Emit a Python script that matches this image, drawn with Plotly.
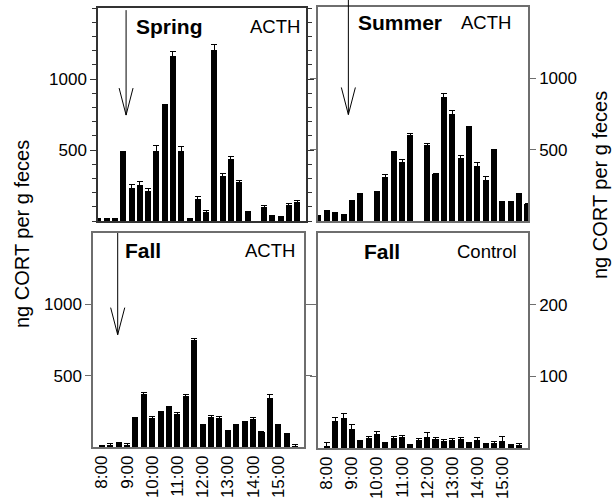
import plotly.graph_objects as go

# ---------------- data ----------------
times = ["7:40", "8:00", "8:20", "8:40", "9:00", "9:20", "9:40", "10:00", "10:20",
         "10:40", "11:00", "11:20", "11:40", "12:00", "12:20", "12:40", "13:00",
         "13:20", "13:40", "14:00", "14:20", "14:40", "15:00", "15:20", "15:40", "16:00"]

spring_acth = [8, 10, 10, 490, 230, 253, 211, 493, 822, 1162, 495, 10, 153, 61, 1204,
               319, 437, 275, 70, None, 101, 40, 30, 113, 131, None]
spring_err = [8, 8, 8, 0, 30, 25, 15, 38, 0, 30, 28, 10, 20, 10, 40,
              17, 17, 12, 0, 0, 7, 0, 0, 7, 14, 0]

summer_acth = [41, 67, 58, 48, 143, 191, None, 205, 309, 488, 412, 606, None, 532, 332,
               866, 751, 440, 659, 389, 290, 500, 134, 136, 191, 122]
summer_err = [0, 5, 0, 0, 0, 0, 0, 0, 14, 0, 20, 7, 0, 10, 0,
              30, 23, 18, 0, 23, 23, 0, 0, 0, 0, 0]

fall_acth = [None, 2, 12, 26, 14, 200, 374, 204, 242, 277, 228, 355, 752, 160, 211,
             204, 118, 153, 174, 195, 107, 346, 153, 97, 3, None]
fall_acth_err = [0, 12, 10, 8, 8, 5, 5, 8, 10, 10, 15, 15, 12, 0, 8,
                 8, 0, 8, 8, 10, 0, 25, 8, 0, 15, 0]

fall_control = [None, 3, 38, 42, 27, 11, 14, 19, 7, 14, 15, 5, 11, 16, 12,
                10, 11, 12, 8, 11, 6, 7, 10, 5, 4, None]
fall_control_err = [0, 5, 4, 6, 6, 0, 2, 4, 0, 2, 2, 0, 2, 5, 2,
                    2, 2, 2, 0, 4, 0, 2, 6, 0, 2, 0]

hour_ticks = [8, 9, 10, 11, 12, 13, 14, 15]
hour_labels = ["8:00", "9:00", "10:00", "11:00", "12:00", "13:00", "14:00", "15:00"]

y_title = "ng CORT per g feces"
# arrow = (injection time in hours, arrow tip value)
arrows = {"spring": (8.78, 746), "summer": (8.86, 746), "fall": (8.63, 787)}


def to_hours(t):
    h, m = t.split(":")
    return int(h) + int(m) / 60.0


xh = [to_hours(t) for t in times]

W, H = 614, 502
FONT = "Liberation Sans, Arial, sans-serif"


def px_dom_x(a, b):
    return [a / W, b / W]


def px_dom_y(top, bottom):
    return [1 - bottom / H, 1 - top / H]


fig = go.Figure()

series = [
    (spring_acth, spring_err, "x", "y"),
    (summer_acth, summer_err, "x2", "y2"),
    (fall_acth, fall_acth_err, "x3", "y3"),
    (fall_control, fall_control_err, "x4", "y4"),
]
for vals, err, xa, ya in series:
    fig.add_trace(go.Bar(
        x=xh, y=vals, xaxis=xa, yaxis=ya, width=0.24,
        marker=dict(color="black", line=dict(width=0)),
        error_y=dict(type="data", array=err, visible=True, color="black",
                     thickness=1, width=3),
        showlegend=False,
    ))

xrange = [7.65, 16.02]
frame_col = "#6e6e6e"
dark_col = "#333333"

common_x = dict(range=xrange, showline=True, mirror=True, linewidth=1.5,
                showgrid=False, zeroline=False, ticks="", tickvals=hour_ticks,
                ticktext=hour_labels, tickangle=-90,
                tickfont=dict(family=FONT, size=17, color="black"))

fig.update_layout(
    width=W, height=H, margin=dict(l=0, r=0, t=0, b=0),
    plot_bgcolor="white", paper_bgcolor="white", bargap=0,
    font=dict(family=FONT, color="black"),
    xaxis=dict(common_x, domain=px_dom_x(98, 306), anchor="y",
               showticklabels=False, linecolor=dark_col),
    xaxis2=dict(common_x, domain=px_dom_x(318, 528), anchor="y2",
                showticklabels=False, linecolor=frame_col),
    xaxis3=dict(common_x, domain=px_dom_x(93, 304), anchor="y3",
                showticklabels=True, linecolor=frame_col),
    xaxis4=dict(common_x, domain=px_dom_x(318, 528), anchor="y4",
                showticklabels=True, linecolor=frame_col),
    yaxis=dict(domain=px_dom_y(8, 221), anchor="x", range=[0, 1500], side="left",
               showline=True, mirror="ticks", linecolor=dark_col, linewidth=1.5,
               showgrid=False, zeroline=False, ticks="outside", ticklen=6,
               tickcolor=dark_col, tickvals=[500, 1000],
               minor=dict(tick0=0, dtick=100, ticks="outside", ticklen=4,
                          tickcolor=dark_col, showgrid=False),
               tickfont=dict(family=FONT, size=17, color="black")),
    yaxis2=dict(domain=px_dom_y(7, 221), anchor="x2", range=[0, 1500], side="right",
                showline=True, mirror="ticks", linecolor=frame_col, linewidth=1.5,
                showgrid=False, zeroline=False, ticks="outside", ticklen=6,
                tickcolor=frame_col, tickvals=[500, 1000],
                tickfont=dict(family=FONT, size=17, color="black")),
    yaxis3=dict(domain=px_dom_y(233, 447), anchor="x3", range=[0, 1500], side="left",
                showline=True, mirror="ticks", linecolor=frame_col, linewidth=1.5,
                showgrid=False, zeroline=False, ticks="outside", ticklen=6,
                tickcolor=frame_col, tickvals=[500, 1000],
                tickfont=dict(family=FONT, size=17, color="black")),
    yaxis4=dict(domain=px_dom_y(233, 448), anchor="x4", range=[0, 300], side="right",
                showline=True, mirror="ticks", linecolor=frame_col, linewidth=1.5,
                showgrid=False, zeroline=False, ticks="outside", ticklen=6,
                tickcolor=frame_col, tickvals=[100, 200],
                tickfont=dict(family=FONT, size=17, color="black")),
)

# panel labels
def ann(x, y, text, size, bold=False, angle=0):
    fig.add_annotation(x=x / W, y=1 - y / H, xref="paper", yref="paper",
                       text=("<b>%s</b>" % text) if bold else text,
                       showarrow=False, textangle=angle,
                       font=dict(family=FONT, size=size, color="black"),
                       xanchor="center", yanchor="middle")


ann(169, 27, "Spring", 21, bold=True)
ann(275, 27, "ACTH", 18.5)
ann(400, 23, "Summer", 21, bold=True)
ann(486, 23, "ACTH", 18.5)
ann(143, 250, "Fall", 21, bold=True)
ann(270, 250, "ACTH", 18.5)
ann(382, 251, "Fall", 21, bold=True)
ann(487, 251, "Control", 18.5)
ann(22, 234, y_title, 20, angle=-90)
ann(600, 185, y_title, 20, angle=-90)

# injection arrows (vertical line + open V head)
def arrow(xa, ya, xt, yt, ytop_dom, ymax):
    fig.add_shape(type="line", xref=xa, yref=ya + " domain", x0=xt, x1=xt,
                  y0=yt / ymax, y1=ytop_dom, line=dict(color="black", width=1))
    dx, dy = 0.28, 190
    fig.add_shape(type="path", xref=xa, yref=ya,
                  path="M %f,%f L %f,%f L %f,%f" % (xt - dx, yt + dy, xt, yt, xt + dx, yt + dy),
                  line=dict(color="black", width=1))


arrow("x", "y", arrows["spring"][0], arrows["spring"][1], 0.99, 1500)
arrow("x2", "y2", arrows["summer"][0], arrows["summer"][1], 1.035, 1500)
arrow("x3", "y3", arrows["fall"][0], arrows["fall"][1], 1.0, 1500)

fig.write_html("out.html")
